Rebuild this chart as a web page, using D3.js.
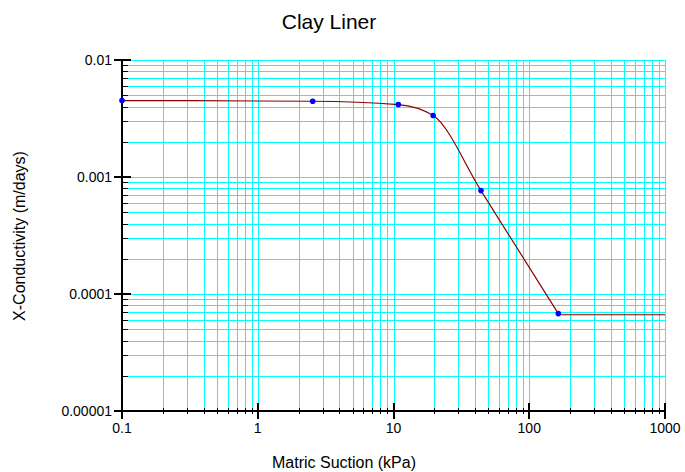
<!DOCTYPE html>
<html>
<head>
<meta charset="utf-8">
<script src="https://cdn.jsdelivr.net/npm/d3@7"></script>
<style>
  html, body { margin: 0; padding: 0; background: #fff; }
  svg { display: block; font-family: "Liberation Sans", Arial, sans-serif; }
</style>
</head>
<body>
<svg id="chart" width="685" height="472"></svg>
<script>
// Measured hydraulic conductivity of the clay liner vs. matric suction
const suction = [0.1, 2.54, 10.85, 19.6, 44.1, 163.7];         // kPa
const conductivity = [0.0045, 0.00444, 0.00416, 0.00335, 0.000765, 0.000068]; // m/days
// Fitted function stays flat at the residual conductivity beyond the last point
const tailSuction = [163.7, 1000];
const tailConductivity = [0.0000665, 0.0000665];

const xTicks = [0.1, 1, 10, 100, 1000];
const xTickLabels = ["0.1", "1", "10", "100", "1000"];
const yTicks = [0.00001, 0.0001, 0.001, 0.01];
const yTickLabels = ["0.00001", "0.0001", "0.001", "0.01"];

const svg = d3.select("#chart");
const plotLeft = 122, plotRight = 665, plotTop = 60, plotBottom = 411;

const x = d3.scaleLog().domain([0.1, 1000]).range([plotLeft, plotRight]);
const y = d3.scaleLog().domain([0.00001, 0.01]).range([plotBottom, plotTop]);

// positions 1..9 within each decade, plus the upper bound
function decadeSteps(lo, hi) {
  const out = [];
  for (let e = Math.round(Math.log10(lo)); e < Math.round(Math.log10(hi)); e++) {
    for (let k = 1; k <= 9; k++) out.push(k * Math.pow(10, e));
  }
  out.push(hi);
  return out;
}
const isMajor = (list, v) => list.some(t => Math.abs(t - v) / t < 1e-9);
const xAll = decadeSteps(0.1, 1000);
const yAll = decadeSteps(0.00001, 0.01);
const xMinor = xAll.filter(v => !isMajor(xTicks, v));
const yMinor = yAll.filter(v => !isMajor(yTicks, v));

// grid
const grid = svg.append("g").attr("stroke", "#00ffff").attr("stroke-width", 1).attr("shape-rendering", "crispEdges");
grid.selectAll("line.v").data(xAll.filter(v => v > 0.1 * 1.0001)).join("line")
  .attr("class", "v")
  .attr("x1", d => Math.round(x(d)) + 0.5).attr("x2", d => Math.round(x(d)) + 0.5)
  .attr("y1", plotTop).attr("y2", plotBottom);
grid.selectAll("line.h").data(yAll.filter(v => v > 0.00001 * 1.0001)).join("line")
  .attr("class", "h")
  .attr("y1", d => Math.round(y(d)) + 0.5).attr("y2", d => Math.round(y(d)) + 0.5)
  .attr("x1", plotLeft).attr("x2", plotRight);

// axes
const axes = svg.append("g").attr("stroke", "#000").attr("shape-rendering", "crispEdges");
axes.append("line").attr("x1", plotLeft).attr("x2", plotLeft).attr("y1", plotTop - 1).attr("y2", plotBottom + 1).attr("stroke-width", 2);
axes.append("line").attr("x1", plotLeft - 1).attr("x2", plotRight + 1).attr("y1", plotBottom).attr("y2", plotBottom).attr("stroke-width", 2);

// y ticks
axes.selectAll("line.ymaj").data(yTicks).join("line").attr("class", "ymaj")
  .attr("x1", plotLeft - 8).attr("x2", plotLeft + 9)
  .attr("y1", d => Math.round(y(d))).attr("y2", d => Math.round(y(d))).attr("stroke-width", 2);
axes.selectAll("line.ymin").data(yMinor).join("line").attr("class", "ymin")
  .attr("x1", plotLeft).attr("x2", plotLeft + 6)
  .attr("y1", d => Math.round(y(d)) + 0.5).attr("y2", d => Math.round(y(d)) + 0.5).attr("stroke-width", 1);

// x ticks
axes.selectAll("line.xmaj").data(xTicks).join("line").attr("class", "xmaj")
  .attr("x1", d => Math.round(x(d))).attr("x2", d => Math.round(x(d)))
  .attr("y1", plotBottom - 8).attr("y2", plotBottom + 8).attr("stroke-width", 2);
axes.selectAll("line.xmin").data(xMinor).join("line").attr("class", "xmin")
  .attr("x1", d => Math.round(x(d)) + 0.5).attr("x2", d => Math.round(x(d)) + 0.5)
  .attr("y1", plotBottom - 3).attr("y2", plotBottom + 3).attr("stroke-width", 1);

// tick labels
svg.append("g").selectAll("text").data(yTicks).join("text")
  .attr("x", plotLeft - 10).attr("y", d => y(d)).attr("dy", "0.35em")
  .attr("text-anchor", "end").attr("font-size", 14).attr("fill", "#000")
  .text((d, i) => yTickLabels[i]);
svg.append("g").selectAll("text").data(xTicks).join("text")
  .attr("x", d => x(d)).attr("y", plotBottom + 22)
  .attr("text-anchor", "middle").attr("font-size", 14).attr("fill", "#000")
  .text((d, i) => xTickLabels[i]);

// fitted curve through the measured points (monotone in log-log space)
const curvePts = suction.map((s, i) => [s, conductivity[i]]);
const smooth = d3.line().x(d => x(d[0])).y(d => y(d[1])).curve(d3.curveMonotoneX);
svg.append("path").datum(curvePts).attr("d", smooth)
  .attr("fill", "none").attr("stroke", "#8b0000").attr("stroke-width", 1.2);
const tailPts = tailSuction.map((s, i) => [s, tailConductivity[i]]);
svg.append("path").datum(tailPts).attr("d", d3.line().x(d => x(d[0])).y(d => y(d[1])))
  .attr("fill", "none").attr("stroke", "#8b0000").attr("stroke-width", 1.2);

// measured points
svg.append("g").selectAll("circle").data(suction).join("circle")
  .attr("cx", d => x(d)).attr("cy", (d, i) => y(conductivity[i])).attr("r", 2.8)
  .attr("fill", "#0000ff");

// titles
svg.append("text").attr("x", 329).attr("y", 29).attr("text-anchor", "middle")
  .attr("font-size", 21).attr("fill", "#000").text("Clay Liner");
svg.append("text").attr("x", 344).attr("y", 468).attr("text-anchor", "middle")
  .attr("font-size", 16).attr("fill", "#000").text("Matric Suction (kPa)");
svg.append("text").attr("transform", "translate(25,236) rotate(-90)").attr("text-anchor", "middle")
  .attr("font-size", 16).attr("fill", "#000").text("X-Conductivity (m/days)");
</script>
</body>
</html>
